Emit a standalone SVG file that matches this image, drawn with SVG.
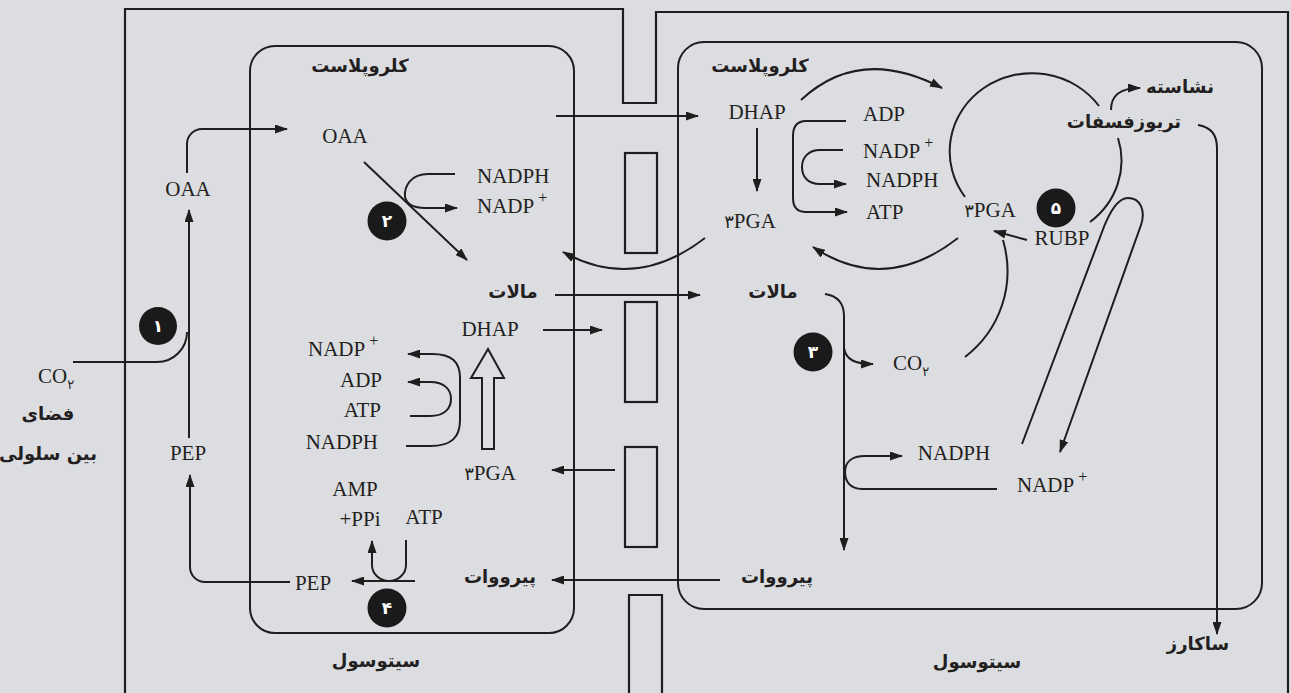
<svg xmlns="http://www.w3.org/2000/svg" width="1291" height="693" viewBox="0 0 1291 693">
<defs>
<marker id="ah" viewBox="0 0 13 9" refX="12" refY="4.5" markerWidth="13" markerHeight="9" markerUnits="userSpaceOnUse" orient="auto"><path d="M0,0 L13,4.5 L0,9 z" fill="#1e1e1e"/></marker>
<style>
.ln{fill:none;stroke:#1e1e1e;stroke-width:2}
.ar{fill:none;stroke:#1e1e1e;stroke-width:2;marker-end:url(#ah)}
.wall{fill:none;stroke:#1e1e1e;stroke-width:2.2}
.lat{font-family:"Liberation Serif",serif;font-size:21px;fill:#231f20}
.fa{font-family:"DejaVu Sans",sans-serif;font-size:18px;font-weight:bold;fill:#231f20}
.dg{font-family:"DejaVu Sans",sans-serif}
.num{font-family:"DejaVu Sans",sans-serif;font-size:17px;font-weight:bold;fill:#ffffff}
.sup{font-size:16px}
</style>
</defs>
<rect x="0" y="0" width="1291" height="693" fill="#dcdde0"/>

<g id="cell-walls">
<path class="wall" d="M125,693 V9 H623 V103 H656 V12 H1288 V693"/>
<rect class="wall" x="625" y="153" width="32" height="100"/>
<rect class="wall" x="625" y="302" width="32" height="100"/>
<rect class="wall" x="625" y="447" width="32" height="100"/>
<path class="wall" d="M629,693 V595 H662 V693"/>
</g>

<g id="chloroplast-left">
<rect class="ln" x="250" y="46" width="324" height="587" rx="25" ry="25"/>
<text class="fa" x="360" y="72" text-anchor="middle">کلروپلاست</text>
</g>
<g id="chloroplast-right">
<rect class="ln" x="678" y="42" width="584" height="567" rx="26" ry="26"/>
<text class="fa" x="760" y="72" text-anchor="middle">کلروپلاست</text>
</g>

<g id="connectors">
<path class="ln" d="M73,362 H157 A30,30 0 0 0 187,332"/>
<path class="ar" d="M189,438 V210"/>
<path class="ar" d="M187,173 V144 A15,15 0 0 1 202,129 H287"/>
<path class="ar" d="M290,582 H205 A15,15 0 0 1 190,567 V475"/>
<path class="ar" d="M364,162 L467,260"/>
<path class="ar" d="M455,174 H428 C411,174 404,186 405,197 C407,205 414,208 425,208 H457"/>
<path class="ar" d="M555,295 H700"/>
<path class="ar" d="M556,116 H698"/>
<path class="ar" d="M543,330 H602"/>
<path class="ar" d="M615,470 H552"/>
<polygon class="ln" points="482,449 482,378 471,378 488,349 504,378 494,378 494,449"/>
<path class="ar" d="M406,446 H430 C452,446 460,437 460,420 V378 C460,362 452,354 432,354 H408"/>
<path class="ar" d="M410,416 H430 C445,416 451,408 451,399 C451,390 445,382 430,382 H408"/>
<path class="ar" d="M406,540 V565 A17,16 0 0 1 372,565 V541"/>
<path class="ar" d="M415,581 H352"/>
<path class="ar" d="M720,580 H552"/>
<path class="ar" d="M757,128 V191"/>
<path class="ar" d="M801,100 Q860,45 942,88"/>
<path class="ar" d="M958,238 Q885,295 813,247"/>
<path class="ar" d="M705,238 Q635,292 563,252"/>
<path class="ar" d="M846,121 H806 C797,121 793,127 793,136 V198 C793,207 797,212 806,212 H847"/>
<path class="ar" d="M843,150 H820 C808,150 802,158 802,167 C802,177 808,184 820,184 H846"/>
<path class="ln" d="M965,197 A82,78 0 0 1 1099,106"/>
<path class="ln" d="M1118,138 A82,78 0 0 1 1090,222"/>
<path class="ar" d="M1111,110 C1111,95 1120,88 1140,88"/>
<path class="ar" d="M1198,125 C1211,127 1217,135 1217,148 V634"/>
<path class="ar" d="M1027,240 L994,231"/>
<path class="ln" d="M965,357 C1000,330 1016,285 1003,240"/>
<path class="ar" d="M1022,444 L1102,232 C1110,210 1118,198 1128,198 C1140,198 1146,210 1141,225 L1060,452"/>
<path class="ar" d="M825,294 C838,296 844,304 844,316 V550"/>
<path class="ar" d="M844,348 C846,360 855,364 873,364"/>
<path class="ar" d="M997,489 H862 C850,489 845,481 845,472 C845,462 852,456 865,456 H902"/>
</g>

<g id="mesophyll-labels">
<text class="lat" x="38" y="383">CO<tspan class="dg" font-size="13" dy="6">۲</tspan></text>
<text class="fa" x="48" y="420" text-anchor="middle">فضای</text>
<text class="fa" x="48" y="460" text-anchor="middle">بین سلولی</text>
<text class="lat" x="188" y="196" text-anchor="middle">OAA</text>
<text class="lat" x="188" y="460" text-anchor="middle">PEP</text>
<text class="fa" x="376" y="667" text-anchor="middle">سیتوسول</text>
</g>

<g id="left-chloroplast-labels">
<text class="lat" x="345" y="143" text-anchor="middle">OAA</text>
<text class="lat" x="477" y="183">NADPH</text>
<text class="lat" x="477" y="213">NADP<tspan class="sup" dx="4" dy="-10">+</tspan></text>
<text class="fa" x="513" y="298" text-anchor="middle">مالات</text>
<text class="lat" x="490" y="336" text-anchor="middle">DHAP</text>
<text class="lat" x="490" y="480" text-anchor="middle"><tspan class="dg" font-size="18">۳</tspan>PGA</text>
<text class="lat" x="308" y="356">NADP<tspan class="sup" dx="4" dy="-10">+</tspan></text>
<text class="lat" x="382" y="387" text-anchor="end">ADP</text>
<text class="lat" x="381" y="417" text-anchor="end">ATP</text>
<text class="lat" x="378" y="449" text-anchor="end">NADPH</text>
<text class="lat" x="355" y="496" text-anchor="middle">AMP</text>
<text class="lat" x="360" y="526" text-anchor="middle">+PPi</text>
<text class="lat" x="424" y="524" text-anchor="middle">ATP</text>
<text class="lat" x="313" y="590" text-anchor="middle">PEP</text>
<text class="fa" x="500" y="583" text-anchor="middle">پیرووات</text>
</g>

<g id="right-chloroplast-labels">
<text class="lat" x="757" y="119" text-anchor="middle">DHAP</text>
<text class="lat" x="750" y="228" text-anchor="middle"><tspan class="dg" font-size="18">۳</tspan>PGA</text>
<text class="lat" x="863" y="121">ADP</text>
<text class="lat" x="863" y="158">NADP<tspan class="sup" dx="4" dy="-10">+</tspan></text>
<text class="lat" x="866" y="187">NADPH</text>
<text class="lat" x="866" y="219">ATP</text>
<text class="lat" x="990" y="217" text-anchor="middle"><tspan class="dg" font-size="18">۳</tspan>PGA</text>
<text class="lat" x="1062" y="245" text-anchor="middle">RUBP</text>
<text class="fa" x="1180" y="93" text-anchor="middle">نشاسته</text>
<text class="fa" x="1124" y="128" text-anchor="middle">تریوزفسفات</text>
<text class="fa" x="773" y="298" text-anchor="middle">مالات</text>
<text class="lat" x="893" y="370">CO<tspan class="dg" font-size="13" dy="6">۲</tspan></text>
<text class="lat" x="954" y="460" text-anchor="middle">NADPH</text>
<text class="lat" x="1017" y="492">NADP<tspan class="sup" dx="4" dy="-10">+</tspan></text>
<text class="fa" x="777" y="583" text-anchor="middle">پیرووات</text>
<text class="fa" x="1198" y="650" text-anchor="middle">ساکارز</text>
<text class="fa" x="977" y="668" text-anchor="middle">سیتوسول</text>
</g>

<g id="step-1"><circle cx="158" cy="326" r="19" fill="#1a1a1a"/><text class="num" x="158" y="332" text-anchor="middle">۱</text></g>
<g id="step-2"><circle cx="387" cy="221" r="19.5" fill="#1a1a1a"/><text class="num" x="387" y="227" text-anchor="middle">۲</text></g>
<g id="step-3"><circle cx="813" cy="352" r="19.5" fill="#1a1a1a"/><text class="num" x="813" y="358" text-anchor="middle">۳</text></g>
<g id="step-4"><circle cx="387" cy="608" r="19.5" fill="#1a1a1a"/><text class="num" x="387" y="614" text-anchor="middle">۴</text></g>
<g id="step-5"><circle cx="1056" cy="208" r="19.5" fill="#1a1a1a"/><text class="num" x="1056" y="214" text-anchor="middle">۵</text></g>
</svg>
